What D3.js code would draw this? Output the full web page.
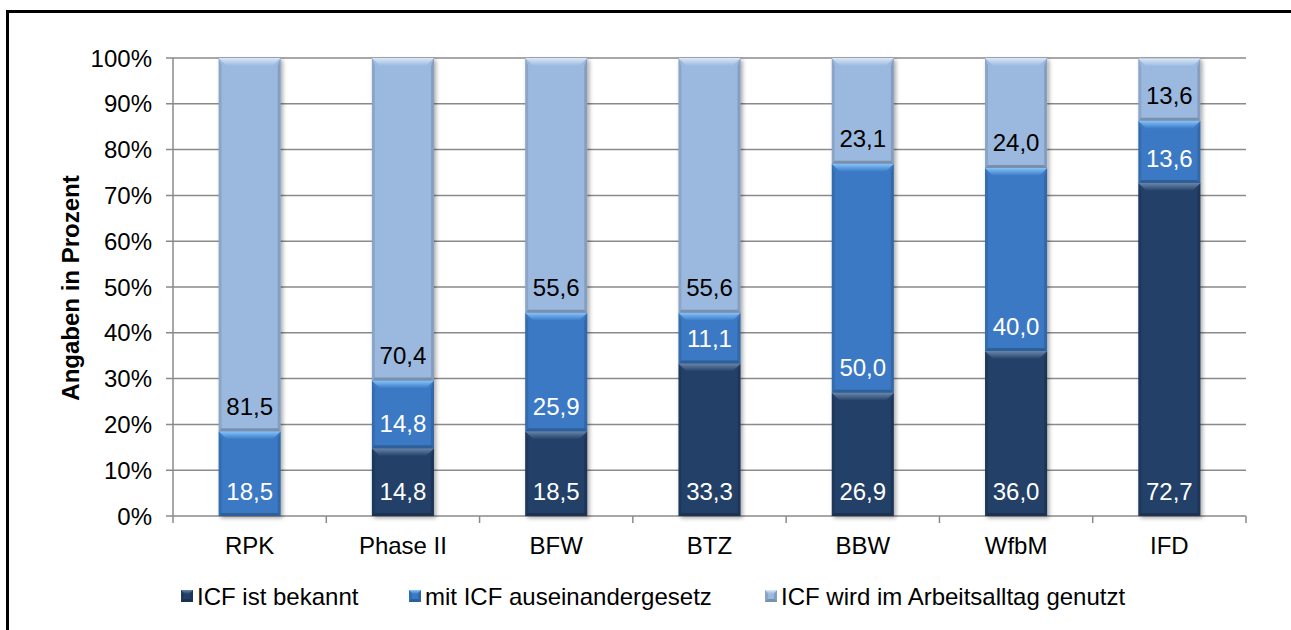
<!DOCTYPE html>
<html>
<head>
<meta charset="utf-8">
<script src="https://cdn.jsdelivr.net/npm/d3@7"></script>
<style>
  html, body { margin: 0; padding: 0; background: #fff; }
  svg { display: block; font-family: "Liberation Sans", Arial, sans-serif; }
</style>
</head>
<body>
<svg id="chart" width="1291" height="630"></svg>
<script>
// Einrichtungen (Kategorien)
const categories = ["RPK", "Phase II", "BFW", "BTZ", "BBW", "WfbM", "IFD"];

// Anteile je Reihe in Prozent
const bekannt      = [0,    14.8, 18.5, 33.3, 26.9, 36.0, 72.7];
const auseinander  = [18.5, 14.8, 25.9, 11.1, 50.0, 40.0, 13.6];
const genutzt      = [81.5, 70.4, 55.6, 55.6, 23.1, 24.0, 13.6];

const seriesNames = ["ICF ist bekannt", "mit ICF auseinandergesetz", "ICF wird im Arbeitsalltag genutzt"];
const yTicks = [0, 10, 20, 30, 40, 50, 60, 70, 80, 90, 100];

const colors = {
  base:  ["#233f67", "#3a79c4", "#9bb8df"],
  top:   ["#6a87aa", "#86c4fb", "#dbe8f7"],
  label: ["#ffffff", "#ffffff", "#000000"]
};

const svg = d3.select("#chart");
const W = 1291, H = 630;
const plot = { left: 173, right: 1246, top: 58, bottom: 516 };
const FS = 24;

// Rahmen
svg.append("path")
  .attr("d", `M7.5,${H} V11.5 H${W}`)
  .attr("fill", "none").attr("stroke", "#000").attr("stroke-width", 3);

const x = d3.scaleBand().domain(categories)
  .range([plot.left, plot.right])
  .paddingInner(0.595).paddingOuter(0.2975);
const y = d3.scaleLinear().domain([0, 100]).range([plot.bottom, plot.top]);

const defs = svg.append("defs");
const shadow = defs.append("filter").attr("id", "shadow")
  .attr("x", "-20%").attr("y", "-20%").attr("width", "150%").attr("height", "150%");
shadow.append("feDropShadow").attr("dx", 2).attr("dy", 2)
  .attr("stdDeviation", 2).attr("flood-color", "#000").attr("flood-opacity", 0.35);

colors.base.forEach((c, i) => {
  const g = defs.append("linearGradient").attr("id", "topgrad" + i)
    .attr("x1", 0).attr("y1", 0).attr("x2", 0).attr("y2", 1);
  g.append("stop").attr("offset", "0%").attr("stop-color", colors.top[i]);
  g.append("stop").attr("offset", "100%").attr("stop-color", c);
});

// Gitternetz und Achsen
const grid = svg.append("g");
grid.selectAll("line.grid").data(yTicks).join("line")
  .attr("x1", plot.left - 7).attr("x2", plot.right)
  .attr("y1", d => y(d)).attr("y2", d => y(d))
  .attr("stroke", "#8a8a8a").attr("stroke-width", 1.5);
grid.append("line")
  .attr("x1", plot.left).attr("x2", plot.left)
  .attr("y1", plot.top).attr("y2", plot.bottom)
  .attr("stroke", "#8a8a8a").attr("stroke-width", 1.5);
const boundaries = categories.map(c => x(c) - x.step() * x.paddingOuter()).concat([plot.right]);
grid.selectAll("line.xtick").data(boundaries).join("line")
  .attr("x1", d => d).attr("x2", d => d)
  .attr("y1", plot.bottom).attr("y2", plot.bottom + 7)
  .attr("stroke", "#8a8a8a").attr("stroke-width", 1.5);

svg.append("g").selectAll("text").data(yTicks).join("text")
  .attr("x", 152).attr("y", d => y(d) + 8.5)
  .attr("text-anchor", "end").attr("font-size", FS).attr("fill", "#000")
  .text(d => d + "%");

svg.append("g").selectAll("text").data(categories).join("text")
  .attr("x", d => x(d) + x.bandwidth() / 2).attr("y", 554)
  .attr("text-anchor", "middle").attr("font-size", FS).attr("fill", "#000")
  .text(d => d);

svg.append("text")
  .attr("transform", "translate(79,288) rotate(-90)")
  .attr("text-anchor", "middle").attr("font-size", FS).attr("font-weight", "bold")
  .text("Angaben in Prozent");

// Gestapelte Säulen
const rows = categories.map((c, i) => ({ cat: c, v: [bekannt[i], auseinander[i], genutzt[i]] }));
const fmt = v => d3.format(".1f")(v).replace(".", ",");

function bevel(g, xx, yy, w, h, s, depth) {
  const b = Math.min(depth, h / 2), sb = Math.min(3, w / 4), bb = Math.min(3, h / 4);
  g.append("rect").attr("x", xx).attr("y", yy).attr("width", w).attr("height", h)
    .attr("fill", colors.base[s]);
  // Kante links / rechts
  g.append("polygon").attr("points", [[xx, yy], [xx + sb, yy + b], [xx + sb, yy + h - bb], [xx, yy + h]].join(" "))
    .attr("fill", "#000").attr("opacity", 0.10);
  g.append("polygon").attr("points", [[xx + w, yy], [xx + w - sb, yy + b], [xx + w - sb, yy + h - bb], [xx + w, yy + h]].join(" "))
    .attr("fill", "#000").attr("opacity", 0.14);
  // Kante unten
  g.append("polygon").attr("points", [[xx, yy + h], [xx + sb, yy + h - bb], [xx + w - sb, yy + h - bb], [xx + w, yy + h]].join(" "))
    .attr("fill", "#000").attr("opacity", 0.22);
  // Kante oben
  g.append("polygon").attr("points", [[xx, yy], [xx + w, yy], [xx + w - b, yy + b], [xx + b, yy + b]].join(" "))
    .attr("fill", `url(#topgrad${s})`);
}

const bars = svg.append("g");
rows.forEach(r => {
  const bg = bars.append("g").attr("filter", "url(#shadow)");
  let acc = 0;
  r.v.forEach((v, s) => {
    if (v > 0) {
      const y0 = y(acc), y1 = y(acc + v);
      bevel(bg, x(r.cat), y1, x.bandwidth(), y0 - y1, s, 8);
    }
    acc += v;
  });
});

// Datenbeschriftungen (innen, unten)
const labels = svg.append("g");
rows.forEach(r => {
  let acc = 0;
  r.v.forEach((v, s) => {
    if (v > 0) {
      labels.append("text")
        .attr("x", x(r.cat) + x.bandwidth() / 2)
        .attr("y", y(acc) - 16.5)
        .attr("text-anchor", "middle").attr("font-size", FS)
        .attr("fill", colors.label[s])
        .text(fmt(v));
    }
    acc += v;
  });
});

// Legende
const legendX = [181, 409, 765];
const lg = svg.append("g");
seriesNames.forEach((n, s) => {
  const g = lg.append("g");
  bevel(g, legendX[s], 590, 12, 12, s, 4);
  g.append("text").attr("x", legendX[s] + 16).attr("y", 605)
    .attr("font-size", FS).attr("fill", "#000").text(n);
});
</script>
</body>
</html>
